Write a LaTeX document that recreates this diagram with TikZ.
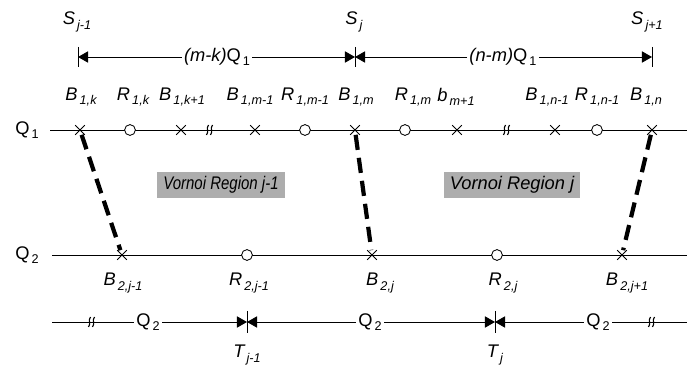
\documentclass[tikz,border=0pt]{standalone}
\usepackage{fontspec}
\setmainfont{Liberation Sans}
\usetikzlibrary{arrows.meta,shapes.misc}

\newcommand{\idx}[2]{#1\kern1.5pt\raisebox{-3pt}{\fontsize{9}{10}\selectfont #2}}

\begin{document}
\begin{tikzpicture}[
    x=0.025cm, y=-0.025cm,
    lbl/.style={font=\itshape\fontsize{13}{15}\selectfont, inner sep=1.5pt},
    qlbl/.style={lbl, font=\upshape\fontsize{13}{15}\selectfont},
    bmark/.style={cross out, draw, minimum size=0.22cm, inner sep=0pt, line width=0.6pt},
    rmark/.style={circle, draw, fill=white, minimum size=0.27cm, inner sep=0pt, line width=0.6pt},
    axis/.style={line width=0.6pt},
    dimarrow/.style={line width=0.6pt, -{Triangle[length=0.25cm, width=0.28cm]}},
    border/.style={line width=3pt, dash pattern=on 0.38cm off 0.2cm},
    region/.style={font=\itshape\fontsize{13}{15}\selectfont, fill=black!32,
      inner xsep=0.15cm, inner ysep=0.12cm},
  ]
  \useasboundingbox (0,0) rectangle (687,367);

  % ===== top: sector widths =====
  \coordinate (s0) at (78,57);
  \coordinate (s1) at (355,57);
  \coordinate (s2) at (652,57);
  \foreach \x in {78,355,652}
    \draw[axis] (\x,47) -- (\x,67);
  \node[lbl] (S0) at (77,22)  {\idx{S}{j-1}};
  \node[lbl] (S1) at (354,22) {\idx{S}{j}};
  \node[lbl] (S2) at (647,22) {\idx{S}{j+1}};
  \node[lbl] (mk) at (217,57) {(m-k)\textup{\idx{Q}{1}}};
  \node[lbl] (nm) at (503,57) {(n-m)\textup{\idx{Q}{1}}};
  \draw[dimarrow] (mk) -- (s0);
  \draw[dimarrow] (mk) -- (s1);
  \draw[dimarrow] (nm) -- (s1);
  \draw[dimarrow] (nm) -- (s2);

  % ===== link Q1 =====
  \node[qlbl] (q1) at (27,130) {\idx{Q}{1}};
  \coordinate (q1a) at (50,130);
  \coordinate (q1b) at (687,130);
  \draw[axis] (q1a) -- (q1b);
  \foreach \x/\s/\n/\lx/\t in {%
      80/bmark/b1k/81/{\idx{B}{1,k}}, 130/rmark/r1k/133/{\idx{R}{1,k}},
      181/bmark/b1kk/182/{\idx{B}{1,k+1}}, 255/bmark/b1mm/250/{\idx{B}{1,m-1}},
      305/rmark/r1mm/305/{\idx{R}{1,m-1}}, 355/bmark/b1m/356/{\idx{B}{1,m}},
      405/rmark/r1m/413/{\idx{R}{1,m}}, 457/bmark/b1mp/456/{\idx{b}{m+1}},
      555/bmark/b1nn/547/{\idx{B}{1,n-1}}, 597/rmark/r1nn/597/{\idx{R}{1,n-1}},
      652/bmark/b1n/646/{\idx{B}{1,n}}} {
    \node[\s] (\n) at (\x,130) {};
    \node[lbl] (\n-l) at (\lx,97) {\t};
  }

  % ===== link Q2 =====
  \node[qlbl] (q2) at (27,255) {\idx{Q}{2}};
  \coordinate (q2a) at (52,255);
  \coordinate (q2b) at (687,255);
  \draw[axis] (q2a) -- (q2b);
  \foreach \x/\s/\n/\lx/\t in {%
      122/bmark/b2a/123/{\idx{B}{2,j-1}}, 247/rmark/r2a/249/{\idx{R}{2,j-1}},
      372/bmark/b2b/380/{\idx{B}{2,j}}, 497/rmark/r2b/503/{\idx{R}{2,j}},
      622/bmark/b2c/627/{\idx{B}{2,j+1}}} {
    \node[\s] (\n) at (\x,255) {};
    \node[lbl] (\n-l) at (\lx,283) {\t};
  }

  % ===== region borders =====
  \draw[border] (b1k) -- (b2a);
  \draw[border] (b1m) -- (b2b);
  \draw[border] (b1n) -- (b2c);
  \node[region] (vr1) at (221,185) {\scalebox{0.82}[1]{Vornoi Region j-1}};
  \node[region] (vr2) at (512,185) {Vornoi Region j};

  % ===== bottom: time line =====
  \coordinate (t0) at (52,322);
  \coordinate (t1) at (247,322);
  \coordinate (t2) at (495,322);
  \coordinate (t3) at (687,322);
  \foreach \x in {247,495}
    \draw[axis] (\x,311) -- (\x,333);
  \node[qlbl] (qa) at (148,322) {\idx{Q}{2}};
  \node[qlbl] (qb) at (370,322) {\idx{Q}{2}};
  \node[qlbl] (qc) at (598,322) {\idx{Q}{2}};
  \draw[axis] (t0) -- (qa);
  \draw[dimarrow] (qa) -- (t1);
  \draw[dimarrow] (qb) -- (t1);
  \draw[dimarrow] (qb) -- (t2);
  \draw[dimarrow] (qc) -- (t2);
  \draw[axis] (qc) -- (t3);
  \node[lbl] (T1) at (247,355) {\idx{T}{j-1}};
  \node[lbl] (T2) at (495,355) {\idx{T}{j}};

  % break marks
  \foreach \x/\y in {210/130, 507/130, 92/322, 652/322} {
    \draw[line width=0.8pt] (\x-3.5,\y+5) .. controls (\x-0.5,\y+1) and (\x-4.5,\y-1) .. (\x-1.5,\y-5);
    \draw[line width=0.8pt] (\x+0.5,\y+5) .. controls (\x+3.5,\y+1) and (\x-0.5,\y-1) .. (\x+2.5,\y-5);
  }
\end{tikzpicture}
\end{document}
